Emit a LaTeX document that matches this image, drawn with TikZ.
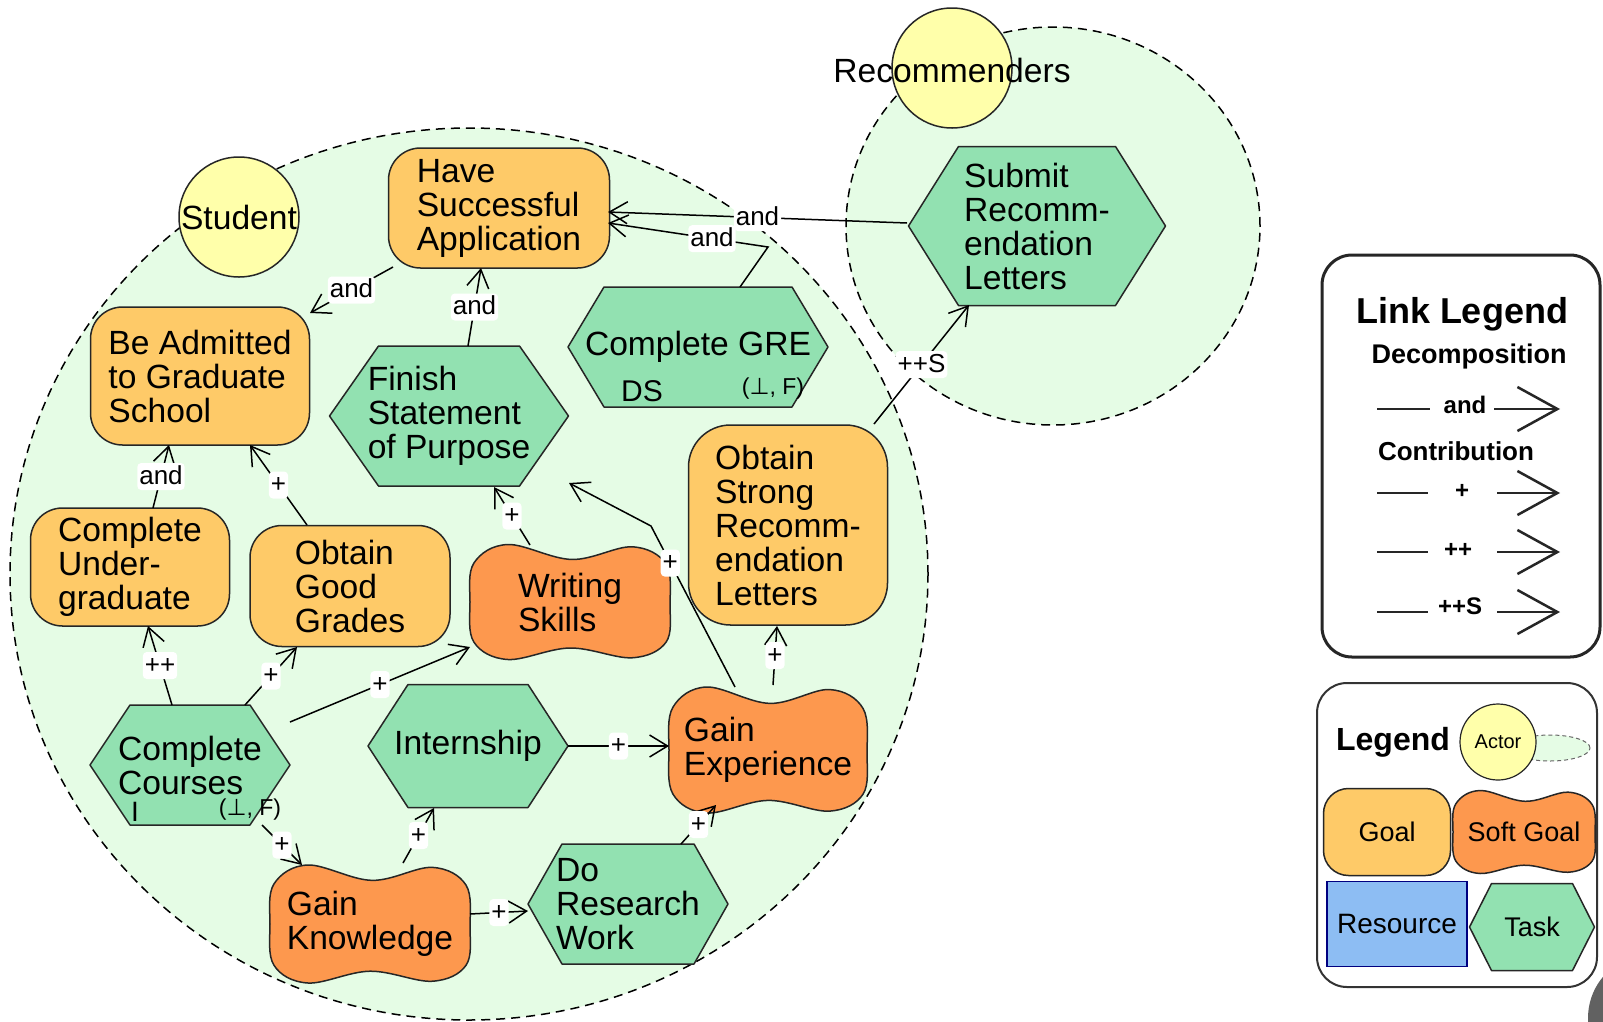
\documentclass[tikz,border=0pt]{standalone}
\usepackage{fontspec}
\setmainfont{Liberation Sans}
\newfontfamily\perpfont{DejaVu Sans}
\usetikzlibrary{arrows.meta,calc}

\definecolor{actorbg}{RGB}{229,252,229}
\definecolor{goalc}{RGB}{254,202,104}
\definecolor{softc}{RGB}{253,152,78}
\definecolor{taskc}{RGB}{146,225,177}
\definecolor{actorc}{RGB}{255,255,170}
\definecolor{resc}{RGB}{141,189,243}

\tikzset{
  nodefont/.style={font=\fontsize{33.6}{34}\selectfont},
  txt/.style={align=left, nodefont, inner sep=0pt},
  goal/.style={draw=black!85, line width=1.5pt, fill=goalc, rounded corners=32pt,
    align=left, nodefont, inner sep=0pt},
  taskshape/.style={draw=black!85, line width=1.5pt, fill=taskc, line join=round},
  softshape/.style={draw=black!85, line width=1.5pt, fill=softc},
  actorcirc/.style={circle, draw=black!85, line width=1.5pt, fill=actorc,
    minimum size=120pt, inner sep=0pt},
  boundary/.style={draw=black, line width=1.5pt, dash pattern=on 9pt off 6pt},
  link/.style={draw=black, line width=1.5pt,
    -{Straight Barb[length=18pt,width=22pt]}},
  lbl/.style={fill=white, rounded corners=4pt, inner sep=2pt,
    font=\fontsize{26}{26}\selectfont, text height=19pt, text depth=4pt},
  legline/.style={draw=black!85, line width=2pt},
  legarrow/.style={draw=black!85, line width=2.5pt,
    -{Straight Barb[length=40pt,width=44pt]}},
  leglbl/.style={font=\bfseries\fontsize{24}{24}\selectfont, inner sep=0pt},
}

% task: [node options]{name}{x}{y}{width}{height}{slant}{text}
\newcommand\taskhex[8][]{%
  \path[taskshape] ({#3-#5/2},#4) -- ({#3-#5/2+#7},{#4-#6/2})
    -- ({#3+#5/2-#7},{#4-#6/2}) -- ({#3+#5/2},#4)
    -- ({#3+#5/2-#7},{#4+#6/2}) -- ({#3-#5/2+#7},{#4+#6/2}) -- cycle;
  \node[txt,minimum width=#5pt,minimum height=#6pt,#1] (#2) at (#3,#4) {#8};
}

% soft goal: [node options]{name}{x}{y}{half width}{half height}{text}
\newcommand\softgoal[7][]{%
  \begin{scope}[shift={(#3,#4)},xscale=#5,yscale=#6]
    \path[softshape] plot[smooth cycle, tension=0.6] coordinates {
      (-1,0) (-0.96,-0.68) (-0.62,-1) (0.02,-0.74) (0.62,-0.96) (0.96,-0.66)
      (1,0.05) (0.96,0.7) (0.62,0.97) (0,0.8) (-0.62,1) (-0.96,0.7)};
  \end{scope}
  \node[txt,#1] (#2) at (#3,#4) {#7};
}

\begin{document}
\begin{tikzpicture}[x=1pt,y=-1pt]
\useasboundingbox (0,0) rectangle (1603,1021);
\clip (0,0) rectangle (1603,1021);
\fill[white] (0,0) rectangle (1603,1021);

% actor boundaries
\fill[actorbg] (469,574) ellipse [x radius=459pt, y radius=446pt];
\fill[actorbg] (1053,226) ellipse [x radius=207pt, y radius=199pt];
\path[boundary] (469,574) ellipse [x radius=459pt, y radius=446pt];
\path[boundary] (1053,226) ellipse [x radius=207pt, y radius=199pt];

% actors
\node[actorcirc, nodefont] (student) at (239,217) {Student};
\node[actorcirc] (recomm) at (952,68) {};
\node[nodefont, inner sep=0pt] (recommtxt) at (952,70) {Recommenders};

% goals
\node[goal, minimum width=221pt, minimum height=120pt] (hsa) at (499,208) {Have\\Successful\\Application};
\node[goal, minimum width=219pt, minimum height=138pt] (ba) at (200,376) {Be Admitted\\to Graduate\\School};
\node[goal, minimum width=199pt, minimum height=118pt] (cu) at (130,567) {Complete\\Under-\\graduate};
\node[goal, minimum width=200pt, minimum height=121pt] (ogg) at (350,586) {Obtain\\Good\\Grades};
\node[goal, rounded corners=42pt, minimum width=199pt, minimum height=200pt] (osrl) at (788,525) {Obtain\\Strong\\Recomm-\\endation\\Letters};

% soft goals
\softgoal{ws}{570}{602}{100}{57.5}{Writing\\Skills}
\softgoal{ge}{768}{750}{99}{63}{Gain\\Experience}
\softgoal{gk}{370}{924}{100}{59}{Gain\\Knowledge}

% tasks
\taskhex{fsop}{449}{416}{239}{140}{49}{Finish\\Statement\\of Purpose}
\taskhex{gre}{698}{347}{260}{120}{36}{Complete GRE}
\taskhex{srl}{1037}{226}{257}{159}{50}{Submit\\Recomm-\\endation\\Letters}
\taskhex{cc}{190}{765}{200}{120}{40}{Complete\\Courses}
\taskhex{intern}{468}{746}{200}{123}{40}{Internship}
\taskhex{drw}{628}{904}{200}{120}{34}{Do\\Research\\Work}

% evaluation marks
\node[font=\fontsize{28}{28}\selectfont, inner sep=0pt] (ccmark) at (135,812) {I};
\node[font=\fontsize{23}{23}\selectfont, inner sep=0pt] (cceval) at (250,810) {({\perpfont ⊥}, F)};
\node[font=\fontsize{30}{30}\selectfont, inner sep=0pt] (gremark) at (642,391) {DS};
\node[font=\fontsize{23}{23}\selectfont, inner sep=0pt] (greeval) at (773,389) {({\perpfont ⊥}, F)};

% links
\coordinate (gbend) at (768,247);
\coordinate (gebend) at (651,526);
\draw[link] ($(srl.center)+(-130,-3)$) -- node[lbl]{and} ($(hsa.center)+(109,4)$);
\draw[link] ($(gre.center)+(42,-60)$) -- (gbend) -- node[lbl,pos=.35]{and} ($(hsa.center)+(109,15)$);
\draw[link] ($(hsa.center)+(-106,59)$) -- node[lbl]{and} ($(ba.center)+(110,-63)$);
\draw[link] ($(fsop.center)+(19,-70)$) -- node[lbl]{and} ($(hsa.center)+(-18,60)$);
\draw[link] ($(cu.center)+(23,-59)$) -- node[lbl]{and} ($(ba.center)+(-31,69)$);
\draw[link] ($(ogg.center)+(-43,-61)$) -- node[lbl]{+} ($(ba.center)+(50,69)$);
\draw[link] ($(ws.center)+(-40,-57)$) -- node[lbl]{+} ($(fsop.center)+(45,71)$);
\draw[link] ($(ge.center)+(-33,-63)$) -- node[lbl,pos=.77]{+} (gebend) -- ($(fsop.center)+(120,67)$);
\draw[link] ($(ge.center)+(5,-65)$) -- node[lbl]{+} ($(osrl.center)+(-11,101)$);
\draw[link] ($(osrl.center)+(86,-101)$) -- node[lbl]{++S} ($(srl.center)+(-68,79)$);
\draw[link] ($(cc.center)+(-18,-60)$) -- node[lbl]{++} ($(cu.center)+(18,59)$);
\draw[link] ($(cc.center)+(55,-60)$) -- node[lbl]{+} ($(ogg.center)+(-53,61)$);
\draw[link] ($(cc.center)+(100,-43)$) -- node[lbl]{+} ($(ws.center)+(-100,45)$);
\draw[link] ($(cc.center)+(72,60)$) -- node[lbl]{+} ($(gk.center)+(-68,-59)$);
\draw[link] ($(gk.center)+(33,-61)$) -- node[lbl]{+} ($(intern.center)+(-34,62)$);
\draw[link] ($(gk.center)+(100,-10)$) -- node[lbl]{+} ($(drw.center)+(-100,7)$);
\draw[link] ($(intern.center)+(100,0)$) -- node[lbl]{+} ($(ge.center)+(-99,-4)$);
\draw[link] ($(drw.center)+(53,-60)$) -- node[lbl]{+} ($(ge.center)+(-52,55)$);

% link legend
\draw[line width=3pt, draw=black!85, rounded corners=30pt] (1322,255) rectangle (1600,657);
\node[font=\bfseries\fontsize{36}{36}\selectfont, anchor=base, inner sep=0pt] (linktitle) at (1462,323) {Link Legend};
\node[font=\bfseries\fontsize{27}{27}\selectfont, anchor=base, inner sep=0pt] (decomp) at (1469,363) {Decomposition};
\node[font=\bfseries\fontsize{26}{26}\selectfont, anchor=base, inner sep=0pt] (contrib) at (1456,460) {Contribution};
\node[leglbl] (lgand) at (1465,405) {and};
\node[leglbl] (lgp) at (1462,491) {+};
\node[leglbl] (lgpp) at (1458,550) {++};
\node[leglbl] (lgpps) at (1460,606) {++S};
\foreach \r/\y/\a/\b in {a/409/1430/1494, p/493/1428/1497, pp/552/1428/1497, pps/612/1428/1497}{
  \coordinate (l\r0) at (1377,\y);
  \coordinate (l\r1) at (\a,\y);
  \coordinate (l\r2) at (\b,\y);
  \coordinate (l\r3) at (1560,\y);
  \draw[legline] (l\r0) -- (l\r1);
  \draw[legarrow] (l\r2) -- (l\r3);
}

% element legend
\draw[line width=2pt, draw=black!80, rounded corners=30pt] (1317,683) rectangle (1597,987);
\node[font=\bfseries\fontsize{32}{32}\selectfont, anchor=base, inner sep=0pt] (legtitle) at (1393,750) {Legend};
\path[fill=actorbg, draw=black!60, dash pattern=on 4pt off 3pt, line width=1pt] (1550,748) ellipse [x radius=40pt, y radius=13pt];
\node[circle, draw=black!85, line width=1.2pt, fill=actorc, minimum size=76pt, inner sep=0pt,
  font=\fontsize{20}{20}\selectfont] (legactor) at (1498,742) {Actor};
\node[goal, rounded corners=25pt, minimum width=127pt, minimum height=87pt,
  font=\fontsize{27}{27}\selectfont] (leggoal) at (1387,832) {Goal};
\softgoal[font=\fontsize{27}{27}\selectfont]{legsoft}{1524}{832}{71}{41.5}{Soft Goal}
\node[draw=black!50!blue, line width=1.2pt, fill=resc, minimum width=140pt, minimum height=85pt,
  font=\fontsize{28}{28}\selectfont] (legres) at (1397,924) {Resource};
\taskhex[font=\fontsize{27}{27}\selectfont]{legtask}{1532}{927}{125}{87}{22}{Task}

% corner button
\fill[black!62] (1652,1018) circle [radius=64pt];
\end{tikzpicture}
\end{document}
